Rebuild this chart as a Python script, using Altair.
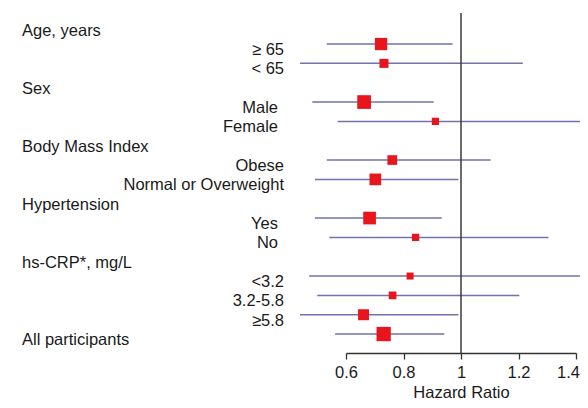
import altair as alt
import pandas as pd

# ---- data ----
labels = ["Age, years", "≥ 65", "< 65",
          "Sex", "Male", "Female",
          "Body Mass Index", "Obese", "Normal or Overweight",
          "Hypertension", "Yes", "No",
          "hs-CRP*, mg/L", "<3.2", "3.2-5.8", "≥5.8",
          "All participants"]
kinds = ["header", "sub", "sub",
         "header", "sub", "sub",
         "header", "sub", "sub",
         "header", "sub", "sub",
         "header", "sub", "sub", "sub",
         "overall"]
hazard_ratio = [None, 0.722, 0.732,
                None, 0.663, 0.911,
                None, 0.761, 0.702,
                None, 0.682, 0.842,
                None, 0.823, 0.762, 0.661,
                0.731]
ci_low = [None, 0.533, 0.440,
          None, 0.483, 0.571,
          None, 0.533, 0.492,
          None, 0.492, 0.542,
          None, 0.472, 0.500, 0.440,
          0.562]
ci_high = [None, 0.971, 1.215,
           None, 0.905, 1.50,
           None, 1.103, 0.991,
           None, 0.933, 1.304,
           None, 1.50, 1.203, 0.991,
           0.942]
weight = [None, 74, 40,
          None, 92, 26,
          None, 46, 67,
          None, 79, 26,
          None, 24, 29, 59,
          100]
tick_values = [0.6, 0.8, 1.0, 1.2, 1.4]
null_effect = [1.0]
# sub-labels set slightly further left in the reference
short_labels = ["Male", "Female", "Yes", "No"]

df = pd.DataFrame({
    "label": labels, "kind": kinds, "hr": hazard_ratio,
    "lo": ci_low, "hi": ci_high, "w": weight,
})
df["row"] = range(len(df))

W, H = 230, 345
FONT = "Liberation Sans"
FS = 16.5
TEXT_COLOR = "#1a1a1a"

xscale = alt.Scale(domain=[0.6, 1.4], nice=False, zero=False)
yscale = alt.Scale(domain=[-0.864, 16.98], nice=False, zero=False, reverse=True)
xaxis = alt.Axis(values=tick_values, labelExpr="'' + datum.value",
                 grid=False, domain=True, domainColor="#333333", domainWidth=1.3,
                 ticks=True, tickColor="#333333", tickWidth=1.3, tickSize=6,
                 labelFont=FONT, labelFontSize=FS, labelColor=TEXT_COLOR, labelPadding=5,
                 labelFlush=False,
                 labelOffset={"condition": {"test": "datum.value == 1.4", "value": -8}, "value": 0},
                 titleFont=FONT, titleFontSize=FS, titleFontWeight="normal",
                 titleColor=TEXT_COLOR, titleY=44, titleBaseline="alphabetic")

base = alt.Chart(df)

ci = base.transform_filter("isValid(datum.hr)").mark_rule(
    color="#7272ac", strokeWidth=1.5
).encode(
    x=alt.X("lo:Q", scale=xscale, axis=xaxis, title="Hazard Ratio"),
    x2="hi:Q",
    y=alt.Y("row:Q", scale=yscale, axis=None),
)

squares = base.transform_filter("isValid(datum.hr)").mark_square(
    color="#e8161c", opacity=1, filled=True
).encode(
    x=alt.X("hr:Q", scale=xscale, axis=xaxis, title="Hazard Ratio"),
    y=alt.Y("row:Q", scale=yscale, axis=None),
    size=alt.Size("w:Q", scale=alt.Scale(domain=[0, 100], range=[0, 204]), legend=None),
)

ref = alt.Chart(pd.DataFrame({"x": null_effect, "top": [-0.6]})).mark_rule(
    color="#3a3a3a", strokeWidth=1.5
).encode(
    x=alt.X("x:Q", scale=xscale, axis=xaxis, title="Hazard Ratio"),
    y=alt.Y("top:Q", scale=yscale, axis=None),
    y2=alt.value(H),
)

headers = base.transform_filter("datum.kind != 'sub'").mark_text(
    align="left", baseline="alphabetic", dy=11, font=FONT, fontSize=FS, color=TEXT_COLOR
).encode(
    x=alt.value(-324),
    y=alt.Y("row:Q", scale=yscale, axis=None),
    text="label:N",
)

subs = base.transform_filter("datum.kind == 'sub'").transform_filter(
    alt.FieldOneOfPredicate(field="label", oneOf=short_labels)
).mark_text(
    align="right", baseline="alphabetic", dy=11, font=FONT, fontSize=FS, color=TEXT_COLOR
).encode(
    x=alt.value(-68),
    y=alt.Y("row:Q", scale=yscale, axis=None),
    text="label:N",
)

subs2 = base.transform_filter("datum.kind == 'sub'").transform_filter(
    {"not": alt.FieldOneOfPredicate(field="label", oneOf=short_labels)}
).mark_text(
    align="right", baseline="alphabetic", dy=11, font=FONT, fontSize=FS, color=TEXT_COLOR
).encode(
    x=alt.value(-62),
    y=alt.Y("row:Q", scale=yscale, axis=None),
    text="label:N",
)

chart = alt.layer(ci, squares, ref, headers, subs, subs2).properties(
    width=W, height=H,
    padding={"left": 338, "top": 0, "right": 4, "bottom": 47},
    autosize=alt.AutoSizeParams(type="none"),
    background="white",
).configure_view(stroke=None)

chart.save("out.html", embed_options={"renderer": "svg", "actions": False})
